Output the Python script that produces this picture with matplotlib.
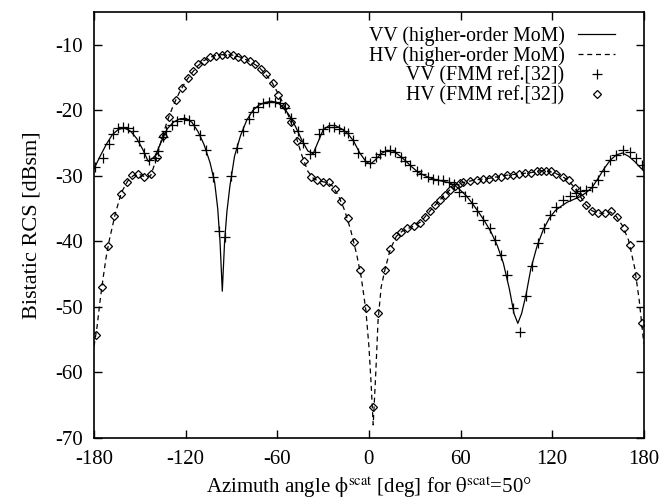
import matplotlib
matplotlib.use("Agg")
import matplotlib.pyplot as plt

plt.rcParams['font.family'] = ['Liberation Serif', 'DejaVu Serif']
plt.rcParams['mathtext.fontset'] = 'stix'
plt.rcParams['axes.unicode_minus'] = False

# VV, higher-order MoM (solid line)
vv_mom_x = [-180, -176, -172, -168, -164, -160, -156, -152, -148, -144.5, -140, -136, -132, -128, -124,
            -120, -116, -112, -108, -104, -101, -99, -97.5, -96, -94.5, -93, -91, -88, -84, -80, -76,
            -72, -68, -64, -60, -56, -52, -48, -44, -40, -36.5, -34, -30, -26, -22, -18, -14, -10, -6,
            -2, 1, 4, 8, 12, 16, 20, 24, 28, 32, 36, 40, 44, 48, 52, 56, 60, 64, 68, 72, 76, 80, 84,
            88, 92, 95, 97.5, 100, 103, 106, 110, 114, 118, 122, 126, 130, 134, 138, 142, 146, 150,
            154, 158, 162, 166, 170, 174, 178, 180]
vv_mom_y = [-28.9, -27.0, -25.2, -23.7, -22.9, -22.7, -23.2, -24.3, -26.0, -27.8, -27.0, -24.8, -22.8,
            -21.8, -21.3, -21.2, -21.8, -23.2, -25.2, -28.0, -31.0, -35.0, -40.0, -47.6, -40.0, -35.5,
            -31.5, -27.0, -23.8, -21.5, -20.0, -19.2, -18.8, -18.6, -18.8, -19.5, -20.8, -22.5, -24.5,
            -26.2, -26.6, -25.2, -23.0, -22.3, -22.3, -22.8, -23.5, -24.7, -26.5, -27.8, -28.2, -27.6,
            -26.6, -26.1, -26.2, -26.9, -27.7, -28.6, -29.4, -29.9, -30.3, -30.6, -30.8, -31.0, -31.4,
            -32.2, -33.1, -34.3, -35.6, -37.0, -38.6, -40.6, -43.3, -47.3, -51.0, -52.5, -51.0, -48.0,
            -44.2, -40.8, -38.3, -36.5, -35.3, -34.6, -34.0, -33.6, -33.2, -32.6, -31.8, -30.4, -28.9,
            -27.6, -26.8, -26.5, -27.0, -27.8, -28.8, -29.2]

# HV, higher-order MoM (dashed line)
hv_mom_x = [-180, -178, -176, -174, -172, -170, -166, -162, -158, -154, -150, -146, -143, -140, -136,
            -132, -128, -124, -120, -116, -112, -108, -104, -100, -96, -92, -88, -84, -80, -76, -72,
            -68, -64, -60, -56, -52, -48, -44, -40, -36, -32, -28, -24, -20, -16, -12, -8, -5, -2, 0,
            1.5, 2.8, 4.5, 6, 8, 10.5, 14, 18, 22, 26, 30, 34, 38, 42, 46, 50, 54, 58, 62, 66, 70, 74,
            78, 82, 86, 90, 94, 98, 102, 106, 110, 114, 118, 122, 126, 130, 134, 138, 142, 146, 150,
            154, 158, 162, 166, 170, 174, 177, 180]
hv_mom_y = [-56.0, -53.0, -49.0, -45.5, -42.3, -39.8, -35.7, -32.5, -30.8, -29.9, -29.8, -30.2, -30.0,
            -28.0, -24.6, -21.6, -19.2, -17.2, -15.6, -14.3, -13.2, -12.4, -11.9, -11.6, -11.5, -11.5,
            -11.6, -11.9, -12.3, -12.8, -13.4, -14.4, -15.5, -17.2, -19.0, -21.2, -23.8, -26.8, -29.3,
            -30.5, -30.8, -31.0, -31.5, -33.0, -35.2, -38.2, -42.0, -45.5, -50.5, -56.0, -62.0, -68.0,
            -60.0, -52.0, -47.0, -44.3, -41.2, -39.2, -38.4, -38.0, -37.6, -37.0, -35.9, -34.8, -33.8,
            -32.8, -31.9, -31.2, -31.0, -30.8, -30.6, -30.5, -30.4, -30.2, -30.1, -29.9, -29.8, -29.7,
            -29.6, -29.5, -29.3, -29.2, -29.3, -29.6, -30.0, -30.6, -31.6, -33.0, -34.4, -35.3, -35.7,
            -35.7, -35.5, -36.2, -37.6, -39.8, -44.0, -49.0, -55.6]

# VV, FMM reference (+ markers)
vv_fmm_x = [-179.3, -174.3, -170.2, -167.4, -164.1, -160.8, -157.7, -154.7, -150.5, -147.0, -143.8,
            -140.1, -138.3, -135.0, -132.9, -129.2, -125.5, -120.9, -117.8, -114.4, -110.6, -106.7,
            -101.9, -98.0, -94.3, -90.3, -86.6, -82.3, -78.4, -75.8, -72.5, -69.2, -65.3, -61.5,
            -58.0, -55.0, -50.7, -46.3, -43.0, -38.6, -35.5, -32.5, -29.9, -26.0, -22.9, -19.5,
            -16.5, -13.6, -10.3, -7.0, -2.6, 0.8, 4.6, 7.2, 10.4, 13.7, 17.0, 20.7, 23.9, 26.8,
            31.2, 34.4, 38.8, 42.1, 45.3, 48.6, 52.5, 56.0, 59.3, 62.8, 67.2, 70.5, 74.8, 79.2,
            82.4, 86.2, 90.5, 94.4, 98.8, 102.7, 106.5, 110.8, 114.8, 118.4, 122.8, 127.1, 131.5,
            135.4, 138.5, 142.4, 146.3, 150.0, 154.0, 158.1, 162.0, 166.4, 170.8, 175.2, 179.1]
vv_fmm_y = [-28.7, -27.2, -25.1, -23.6, -22.7, -22.6, -22.7, -23.2, -24.7, -26.5, -27.6, -27.2, -26.2,
            -24.0, -23.1, -22.2, -21.6, -21.3, -21.5, -22.3, -23.8, -26.0, -30.1, -38.4, -39.4, -30.0,
            -25.8, -23.1, -21.3, -20.2, -19.5, -18.9, -18.7, -18.7, -18.9, -19.6, -21.1, -23.1, -25.0,
            -26.6, -26.3, -23.6, -22.8, -22.5, -22.5, -22.8, -23.1, -23.4, -24.5, -26.5, -27.7, -28.0,
            -27.1, -26.6, -26.2, -26.1, -26.4, -27.1, -27.7, -28.4, -29.3, -29.7, -30.1, -30.5, -30.6,
            -30.7, -30.9, -31.3, -32.4, -33.0, -34.2, -35.4, -36.7, -38.0, -39.8, -42.1, -45.2, -50.2,
            -53.8, -48.4, -43.7, -40.3, -37.9, -36.0, -34.7, -33.7, -33.0, -32.6, -32.3, -32.1, -31.7,
            -30.7, -29.2, -27.6, -26.8, -26.1, -26.4, -27.2, -28.3]

# HV, FMM reference (diamond markers)
hv_fmm_x = [-178.7, -174.8, -170.6, -166.7, -162.5, -158.6, -154.9, -151.0, -147.1, -142.7, -139.0,
            -135.0, -130.7, -126.5, -122.6, -118.7, -115.0, -111.7, -108.0, -104.1, -100.2, -96.4,
            -92.8, -89.2, -85.6, -81.8, -77.9, -74.6, -70.9, -67.4, -63.0, -59.4, -55.0, -51.0,
            -46.8, -42.8, -38.0, -34.0, -29.9, -26.0, -22.3, -18.4, -14.0, -9.8, -5.9, -2.2, 3.0,
            6.1, 10.6, 14.1, 17.6, 21.3, 25.2, 29.6, 33.4, 36.6, 39.9, 43.2, 46.4, 49.7, 53.0, 56.3,
            59.5, 61.7, 66.1, 70.5, 74.8, 78.7, 82.4, 86.8, 90.5, 94.4, 98.3, 102.1, 106.0, 110.1,
            113.0, 115.8, 119.5, 122.4, 127.1, 131.1, 134.8, 138.5, 142.4, 146.3, 150.0, 154.4,
            158.8, 162.4, 166.9, 171.2, 175.2, 178.6]
hv_fmm_y = [-54.3, -46.9, -40.7, -36.1, -32.7, -31.0, -29.8, -29.7, -30.2, -29.7, -27.1, -23.9, -21.0,
            -18.4, -16.6, -15.1, -14.0, -12.9, -12.4, -11.9, -11.7, -11.5, -11.4, -11.5, -11.8, -12.2,
            -12.5, -12.9, -13.7, -14.5, -15.8, -17.6, -19.4, -21.8, -24.6, -27.7, -30.1, -30.7, -30.9,
            -31.0, -32.0, -33.8, -36.4, -40.1, -44.4, -50.2, -65.2, -50.9, -44.3, -41.1, -39.2, -38.5,
            -38.0, -37.7, -37.2, -36.3, -35.3, -34.4, -33.7, -32.9, -32.1, -31.5, -31.1, -31.0, -30.8,
            -30.6, -30.5, -30.4, -30.2, -30.1, -29.9, -29.8, -29.7, -29.6, -29.5, -29.3, -29.2, -29.2,
            -29.3, -29.7, -30.1, -30.7, -31.8, -33.2, -34.5, -35.4, -35.7, -35.7, -35.4, -36.3, -37.9,
            -40.6, -45.3, -52.4]

x_ticks = [-180, -120, -60, 0, 60, 120, 180]
y_ticks = [-70, -60, -50, -40, -30, -20, -10]

fig = plt.figure(figsize=(6.64, 5.04), dpi=100)
ax = fig.add_axes([0.1416, 0.131, 0.828, 0.845])

ax.plot(vv_mom_x, vv_mom_y, color='black', lw=0.9, label='VV (higher-order MoM)')
ax.plot(hv_mom_x, hv_mom_y, color='black', lw=0.9, ls=(0, (4, 3)), label='HV (higher-order MoM)')
ax.plot(vv_fmm_x, vv_fmm_y, ls='none', marker='+', ms=7, mew=0.9, color='black',
        label='VV (FMM ref.[32])')
ax.plot(hv_fmm_x, hv_fmm_y, ls='none', marker='D', ms=4.5, mew=0.9, mfc='none', color='black',
        label='HV (FMM ref.[32])')

ax.set_xlim(-180, 180)
ax.set_ylim(-70, -5)
ax.set_xticks(x_ticks)
ax.set_yticks(y_ticks)
ax.tick_params(direction='in', length=5.5, width=1.0, top=True, right=True, labelsize=15)
ax.tick_params(axis='x', pad=9)
ax.tick_params(axis='y', pad=8)
for sp in ax.spines.values():
    sp.set_linewidth(1.2)

ax.set_xlabel(r'Azimuth angle $\mathrm{\phi}^{\mathrm{scat}}$ [deg] for $\mathrm{\theta}^{\mathrm{scat}}$=50°',
              fontsize=15, labelpad=4)
ax.set_ylabel('Bistatic RCS [dBsm]', fontsize=16, labelpad=10)

leg = ax.legend(loc='upper right', markerfirst=False, frameon=False, fontsize=14.3,
                handlelength=1.85, handletextpad=0.7, labelspacing=0.02,
                borderaxespad=0.3, bbox_to_anchor=(0.973, 1.0))

fig.savefig('out.png', dpi=100)
